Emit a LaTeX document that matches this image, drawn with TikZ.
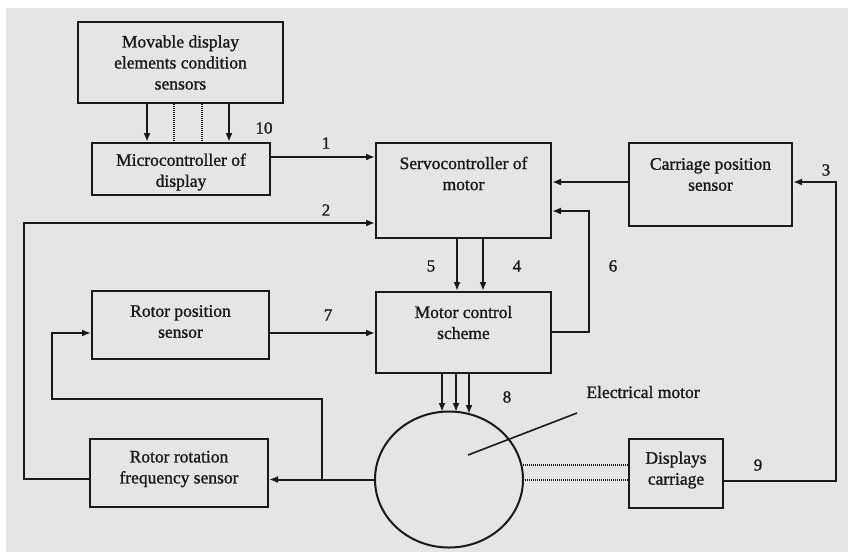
\documentclass[tikz,border=0pt]{standalone}
\usepackage{fontspec}
\setmainfont{Liberation Serif}
\newfontfamily\inkfont{Liberation Serif}[FakeBold=1.2]
\usetikzlibrary{arrows.meta,shapes.geometric}
\definecolor{bgc}{RGB}{229,229,229}
\definecolor{ink}{RGB}{25,25,25}
\tikzset{
  box/.style={draw=ink, line width=2pt, inner sep=0pt},
  txt/.style={align=center, inner sep=0pt, text=ink, font=\inkfont\fontsize{17.5}{21}\selectfont},
  num/.style={inner sep=0pt, text=ink, font=\inkfont\fontsize{17}{20}\selectfont},
  ln/.style={draw=ink, line width=2pt},
  arr/.style={ln, -{Latex[length=9pt,width=7pt]}},
  dotln/.style={draw=ink, line width=1.6pt, dash pattern=on 1.2pt off 0.8pt}
}
\begin{document}
\begin{tikzpicture}[x=1pt,y=-1pt]
\useasboundingbox (0,0) rectangle (850,558);
\fill[white] (0,0) rectangle (850,558);
\fill[bgc] (6,8) rectangle (848,552);

% boxes
\node[box, minimum width=205pt, minimum height=81pt] (sens) at (180.5,62.5) {};
\node[txt] at (sens.center) {Movable display\\elements condition\\sensors};

\node[box, minimum width=178pt, minimum height=52pt] (micro) at (181,169) {};
\node[txt] at ([yshift=-3pt]micro.center) {Microcontroller of\\display};

\node[box, minimum width=175pt, minimum height=95pt] (servo) at (463.5,190.5) {};
\node[txt] at ([yshift=17pt]servo.center) {Servocontroller of\\motor};

\node[box, minimum width=163pt, minimum height=83pt] (cps) at (710.5,184.5) {};
\node[txt] at ([yshift=10pt]cps.center) {Carriage position\\sensor};

\node[box, minimum width=175pt, minimum height=81pt] (mcs) at (463.5,332.5) {};
\node[txt] at ([yshift=10pt]mcs.center) {Motor control\\scheme};

\node[box, minimum width=177pt, minimum height=68pt] (rps) at (180.5,325) {};
\node[txt] at ([yshift=3.5pt]rps.center) {Rotor position\\sensor};

\node[box, minimum width=178pt, minimum height=68pt] (rfs) at (179,473) {};
\node[txt] at ([yshift=4pt]rfs.center) {Rotor rotation\\frequency sensor};

\node[box, minimum width=94pt, minimum height=69pt] (dc) at (676,473.5) {};
\node[txt] at ([yshift=3.5pt]dc.center) {Displays\\carriage};

\node[draw=ink, line width=2pt, ellipse, inner sep=0pt, minimum width=148pt, minimum height=136pt] (motor) at (449,479.5) {};

\node[txt] (emlab) at (643,392) {Electrical motor};

% sensors -> microcontroller
\draw[arr] (sens.south -| 147,0) -- (micro.north -| 147,0);
\draw[arr] (sens.south -| 229,0) -- (micro.north -| 229,0);
\draw[dotln] (sens.south -| 174,0) -- (micro.north -| 174,0);
\draw[dotln] (sens.south -| 202,0) -- (micro.north -| 202,0);

% 1
\draw[arr] (micro.east |- 0,157) -- (servo.west |- 0,157);
% 2
\coordinate (c2a) at (24,479);
\coordinate (c2b) at (24,223);
\draw[arr] (rfs.west |- 0,479) -- (c2a) -- (c2b) -- (servo.west |- 0,223);
% carriage sensor -> servo
\draw[arr] (cps.west |- 0,182) -- (servo.east |- 0,182);
% 3 / 9
\coordinate (c3a) at (836,481);
\coordinate (c3b) at (836,182);
\draw[arr] (dc.east |- 0,481) -- (c3a) -- (c3b) -- (cps.east |- 0,182);
% 6
\coordinate (c6a) at (589,332);
\coordinate (c6b) at (589,211);
\draw[arr] (mcs.east |- 0,332) -- (c6a) -- (c6b) -- (servo.east |- 0,211);
% 4,5
\draw[arr] (servo.south -| 457,0) -- (mcs.north -| 457,0);
\draw[arr] (servo.south -| 483,0) -- (mcs.north -| 483,0);
% 7
\draw[arr] (rps.east |- 0,333) -- (mcs.west |- 0,333);
% 8
\draw[arr] (mcs.south -| 442,0) -- (442,412);
\draw[arr] (mcs.south -| 456,0) -- (456,412);
\draw[arr] (mcs.south -| 469,0) -- (469,414);
% motor -> rotor frequency sensor
\draw[arr] (motor.west) -- (rfs.east |- motor.west);
% feedback to rotor position sensor
\coordinate (j) at (322,479.5);
\coordinate (k1) at (322,399);
\coordinate (k2) at (52,399);
\coordinate (k3) at (52,333);
\draw[arr] (j) -- (k1) -- (k2) -- (k3) -- (rps.west |- 0,333);
% motor -> displays carriage (double dotted)
\draw[dotln] (521,465) -- (dc.west |- 0,465);
\draw[dotln] (523,480) -- (dc.west |- 0,480);
% pointer
\draw[ln, line width=1.6pt] (577,413) -- (468,455);

% numbers
\node[num] at (326,143) {1};
\node[num] at (326,210) {2};
\node[num] at (826,170) {3};
\node[num] at (517,266) {4};
\node[num] at (431,266) {5};
\node[num] at (613,266) {6};
\node[num] at (328,315) {7};
\node[num] at (507,397) {8};
\node[num] at (758,465) {9};
\node[num] at (264,128) {10};
\end{tikzpicture}
\end{document}
